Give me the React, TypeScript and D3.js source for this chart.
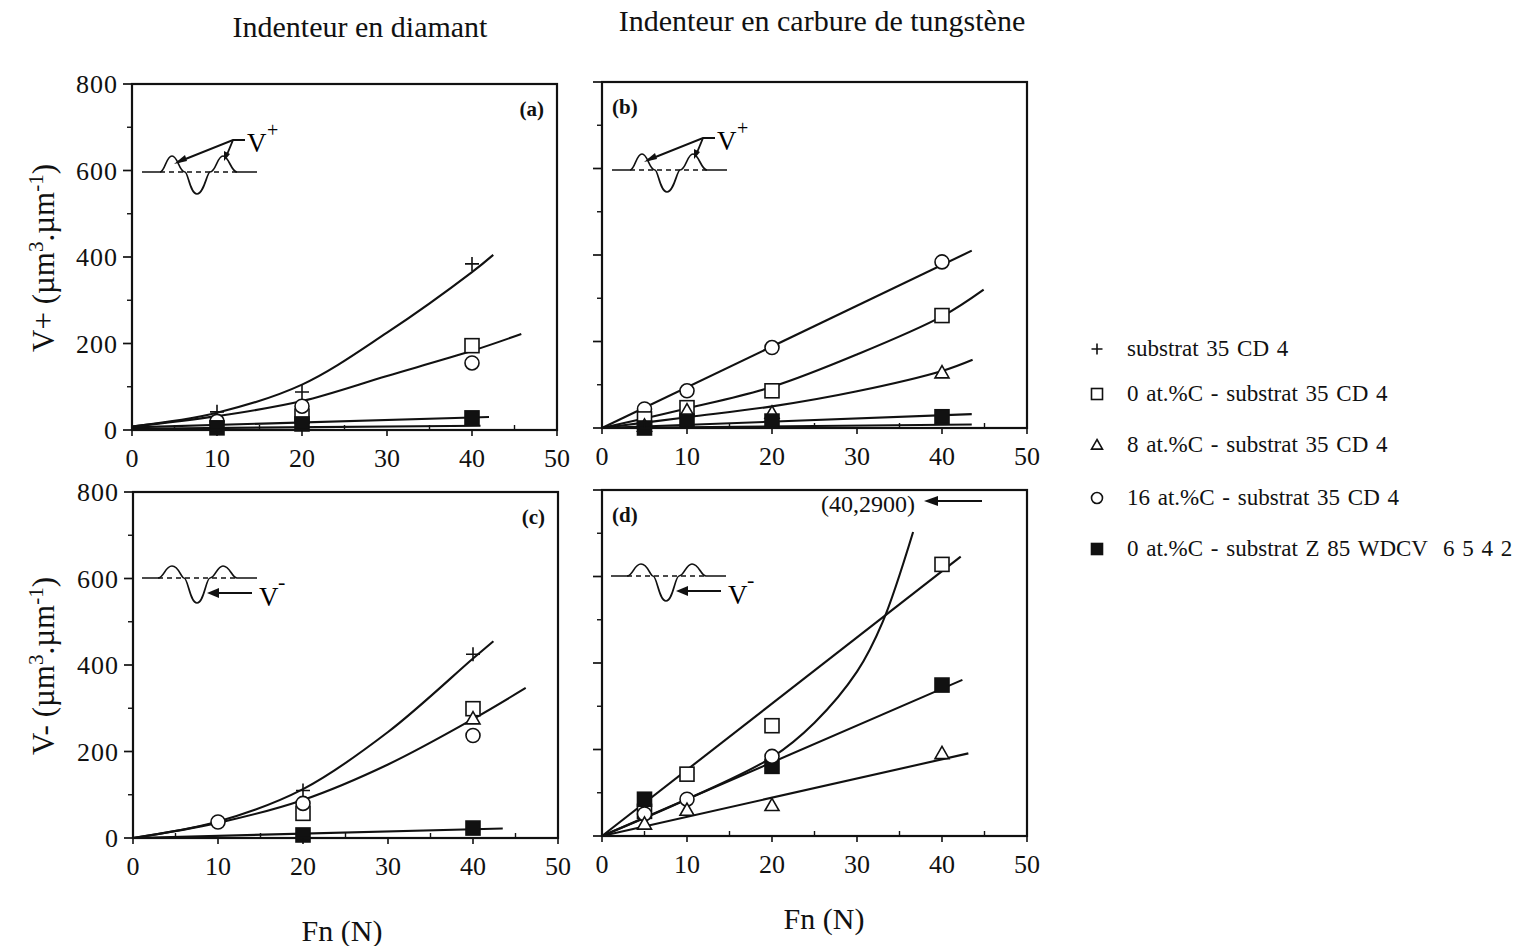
import React from "react";
import * as d3 from "d3";

type Pt = [number, number];

// ---------- data ----------
const xTicks = [0, 10, 20, 30, 40, 50];
const yTicks = [0, 200, 400, 600, 800];

// panel (a) diamond, V+
const plusA: Pt[] = [[10, 42], [20, 88], [40, 384]];
const squareA: Pt[] = [[20, 32], [40, 195]];
const circleA: Pt[] = [[10, 20], [20, 55], [40, 155]];
const filledA: Pt[] = [[10, 5], [20, 14], [40, 28]];
const fitPlusA: Pt[] = [[0, 8], [10, 40], [20, 105], [30, 225], [40, 365], [42.5, 405]];
const fitSquareA: Pt[] = [[0, 8], [10, 32], [20, 67], [30, 125], [40, 183], [45.8, 222]];
const fitFlatA1: Pt[] = [[0, 6], [42, 30]];
const fitFlatA2: Pt[] = [[0, 3], [41, 10]];

// panel (b) WC, V+
const circleB: Pt[] = [[5, 44], [10, 86], [20, 186], [40, 384]];
const squareB: Pt[] = [[5, 21], [10, 47], [20, 86], [40, 260]];
const triangleB: Pt[] = [[5, 5], [10, 40], [20, 35], [40, 128]];
const filledB: Pt[] = [[5, 0], [10, 16], [20, 16], [40, 26]];
const fitCircleB: Pt[] = [[0, 0], [43.5, 410]];
const fitSquareB: Pt[] = [[0, 0], [10, 45], [20, 95], [30, 170], [40, 258], [44.9, 320]];
const fitTriangleB: Pt[] = [[0, 0], [10, 25], [20, 50], [30, 85], [40, 132], [43.6, 158]];
const fitFlatB1: Pt[] = [[0, 0], [43.5, 32]];
const fitFlatB2: Pt[] = [[0, 0], [43.5, 8]];

// panel (c) diamond, V-
const plusC: Pt[] = [[20, 110], [40, 425]];
const squareC: Pt[] = [[20, 57], [40, 299]];
const triangleC: Pt[] = [[40, 276]];
const circleC: Pt[] = [[10, 37], [20, 80], [40, 237]];
const filledC: Pt[] = [[20, 7], [40, 23]];
const fitPlusC: Pt[] = [[0, 0], [10, 38], [20, 113], [30, 245], [40, 415], [42.4, 455]];
const fitSquareC: Pt[] = [[0, 0], [10, 35], [20, 88], [30, 170], [40, 275], [46.2, 347]];
const fitFlatC: Pt[] = [[0, 0], [43.5, 22]];

// panel (d) WC, V-
const squareD: Pt[] = [[5, 57], [10, 143], [20, 255], [40, 628]];
const filledD: Pt[] = [[5, 85], [20, 161], [40, 349]];
const circleD: Pt[] = [[5, 51], [10, 85], [20, 184]];
const triangleD: Pt[] = [[5, 28], [10, 60], [20, 71], [40, 191]];
const fitSquareD: Pt[] = [[0, 0], [42.2, 646]];
const fitFilledD: Pt[] = [[0, 0], [42.4, 361]];
const fitTriangleD: Pt[] = [[0, 0], [43.1, 191]];
const fitCircleD: Pt[] = [[0, 0], [10, 85], [20, 182], [25, 262], [30, 380], [33, 494], [36.6, 703]];

const legendLabels = [
  "substrat 35 CD 4",
  "0 at.%C - substrat 35 CD 4",
  "8 at.%C - substrat 35 CD 4",
  "16 at.%C - substrat 35 CD 4",
  "0 at.%C - substrat Z 85 WDCV  6 5 4 2",
];
const legendMarkers = ["plus", "square", "triangle", "circle", "filled"];
const legendRows = [348, 393, 444, 497, 548];

// ---------- layout ----------
const W = 425;
const H = 346;
const FONT = "'Liberation Serif', 'DejaVu Serif', serif";

type Series = { type: string; pts: Pt[] };
type Panel = {
  id: string;
  x: number;
  y: number;
  labelPos: "left" | "right";
  yLabels: boolean;
  series: Series[];
  fits: Pt[][];
  inset: "plus" | "minus";
};

const panels: Panel[] = [
  {
    id: "(a)", x: 132, y: 84, labelPos: "right", yLabels: true, inset: "plus",
    series: [
      { type: "plus", pts: plusA }, { type: "square", pts: squareA },
      { type: "circle", pts: circleA }, { type: "filled", pts: filledA },
    ],
    fits: [fitPlusA, fitSquareA, fitFlatA1, fitFlatA2],
  },
  {
    id: "(b)", x: 602, y: 82, labelPos: "left", yLabels: false, inset: "plus",
    series: [
      { type: "circle", pts: circleB }, { type: "square", pts: squareB },
      { type: "triangle", pts: triangleB }, { type: "filled", pts: filledB },
    ],
    fits: [fitCircleB, fitSquareB, fitTriangleB, fitFlatB1, fitFlatB2],
  },
  {
    id: "(c)", x: 133, y: 492, labelPos: "right", yLabels: true, inset: "minus",
    series: [
      { type: "plus", pts: plusC }, { type: "square", pts: squareC },
      { type: "triangle", pts: triangleC }, { type: "circle", pts: circleC },
      { type: "filled", pts: filledC },
    ],
    fits: [fitPlusC, fitSquareC, fitFlatC],
  },
  {
    id: "(d)", x: 602, y: 490, labelPos: "left", yLabels: false, inset: "minus",
    series: [
      { type: "square", pts: squareD }, { type: "filled", pts: filledD },
      { type: "circle", pts: circleD }, { type: "triangle", pts: triangleD },
    ],
    fits: [fitSquareD, fitFilledD, fitTriangleD, fitCircleD],
  },
];

function Marker({ type, x, y, s }: { type: string; x: number; y: number; s: number }) {
  const h = s / 2;
  const sw = 1.6;
  if (type === "plus")
    return (
      <path d={`M${x - h},${y}H${x + h}M${x},${y - h}V${y + h}`} stroke="#111" strokeWidth={sw} fill="none" />
    );
  if (type === "square")
    return <rect x={x - h} y={y - h} width={s} height={s} fill="#fff" stroke="#111" strokeWidth={sw} />;
  if (type === "filled")
    return <rect x={x - h} y={y - h} width={s} height={s} fill="#111" stroke="#111" strokeWidth={sw} />;
  if (type === "circle")
    return <circle cx={x} cy={y} r={h} fill="#fff" stroke="#111" strokeWidth={sw} />;
  return (
    <path d={`M${x},${y - h}L${x + h},${y + h * 0.75}L${x - h},${y + h * 0.75}Z`} fill="#fff" stroke="#111" strokeWidth={sw} />
  );
}

function InsetPlus() {
  const prof = "M10,88 L28,88 C33,88 34,72 40,72 C46,72 47,88 53,88 C56,88 58,110 65,110 C72,110 75,88 78,88 C84,88 85,72 91,72 C97,72 99,88 105,88 L125,88";
  return (
    <g>
      <path d={prof} fill="#fff" stroke="#111" strokeWidth={1.7} />
      <line x1={28} x2={105} y1={88} y2={88} stroke="#111" strokeWidth={1.6} strokeDasharray="5,4" />
      <path d="M46,78 L101,56 L113,56" fill="none" stroke="#111" strokeWidth={1.9} />
      <path d="M42,80 L53,71 L55,77 Z" fill="#111" />
      <path d="M101,56 L94,73" stroke="#111" strokeWidth={1.9} />
      <path d="M92,77 L92,67 L98,70 Z" fill="#111" />
      <text x={115} y={68} fontFamily={FONT} fontSize={27}>V</text>
      <text x={135} y={53} fontFamily={FONT} fontSize={20}>+</text>
    </g>
  );
}

function InsetMinus() {
  const prof = "M9,86 L25,86 C31,86 32,74 39,74 C46,74 48,86 51,86 C55,86 57,111 64,111 C71,111 73,86 77,86 C82,86 84,74 90,74 C97,74 99,86 104,86 L124,86";
  return (
    <g>
      <path d={prof} fill="none" stroke="#111" strokeWidth={1.7} />
      <line x1={25} x2={104} y1={86} y2={86} stroke="#111" strokeWidth={1.6} strokeDasharray="5,4" />
      <line x1={84} x2={119} y1={101} y2={101} stroke="#111" strokeWidth={1.9} />
      <path d="M74,101 L86,96 L86,106 Z" fill="#111" />
      <text x={126} y={114} fontFamily={FONT} fontSize={27}>V</text>
      <text x={145} y={97} fontFamily={FONT} fontSize={22}>-</text>
    </g>
  );
}

function PanelView({ p }: { p: Panel }) {
  const x = d3.scaleLinear().domain([0, 50]).range([0, W]);
  const y = d3.scaleLinear().domain([0, 800]).range([H, 0]);
  const smooth = d3.line<Pt>().x((d) => x(d[0])).y((d) => y(d[1])).curve(d3.curveCatmullRom.alpha(0.5));
  const minorX = d3.range(5, 50, 10);
  const minorY = d3.range(100, 800, 200);
  return (
    <g transform={`translate(${p.x},${p.y})`}>
      {p.fits.map((f, i) => (
        <path key={i} d={smooth(f) || ""} fill="none" stroke="#111" strokeWidth={2.1} />
      ))}
      {p.series.map((s, i) =>
        s.pts.map((d, j) => <Marker key={`${i}-${j}`} type={s.type} x={x(d[0])} y={y(d[1])} s={14} />)
      )}
      <rect x={0} y={0} width={W} height={H} fill="none" stroke="#111" strokeWidth={2.2} />
      {yTicks.map((t) => (
        <line key={`y${t}`} x1={-9} x2={0} y1={y(t)} y2={y(t)} stroke="#111" strokeWidth={1.7} />
      ))}
      {minorY.map((t) => (
        <line key={`ym${t}`} x1={-5} x2={0} y1={y(t)} y2={y(t)} stroke="#111" strokeWidth={1.4} />
      ))}
      {xTicks.map((t) => (
        <line key={`x${t}`} x1={x(t)} x2={x(t)} y1={H} y2={H + 6} stroke="#111" strokeWidth={1.6} />
      ))}
      {minorX.map((t) => (
        <line key={`xm${t}`} x1={x(t)} x2={x(t)} y1={H} y2={H - 5} stroke="#111" strokeWidth={1.4} />
      ))}
      {p.yLabels &&
        yTicks.map((t) => (
          <text key={`yl${t}`} x={-14} y={y(t) + 9} textAnchor="end" fontFamily={FONT} fontSize={26} letterSpacing={1} fill="#111">
            {t}
          </text>
        ))}
      {xTicks.map((t) => (
        <text key={`xl${t}`} x={x(t)} y={H + 37} textAnchor="middle" fontFamily={FONT} fontSize={26} fill="#111">
          {t}
        </text>
      ))}
      <text
        x={p.labelPos === "right" ? W - 13 : 10}
        y={32}
        textAnchor={p.labelPos === "right" ? "end" : "start"}
        fontFamily={FONT}
        fontSize={21}
        fontWeight="bold"
        fill="#111"
      >
        {p.id}
      </text>
      {p.inset === "plus" ? <InsetPlus /> : <InsetMinus />}
    </g>
  );
}

export default function App() {
  const titleSize = 30;
  return (
    <svg width={1513} height={946} style={{ display: "block", position: "absolute", left: 0, top: 0, background: "#fff" }}>
      <rect width={1513} height={946} fill="#fff" />
      <text x={360} y={37} textAnchor="middle" fontFamily={FONT} fontSize={titleSize} fill="#111">Indenteur en diamant</text>
      <text x={822} y={31} textAnchor="middle" fontFamily={FONT} fontSize={titleSize} fill="#111">Indenteur en carbure de tungstène</text>

      {panels.map((p) => (
        <PanelView key={p.id} p={p} />
      ))}

      {/* (40,2900) annotation in panel d */}
      <text x={868} y={512} textAnchor="middle" fontFamily={FONT} fontSize={24} fill="#111">(40,2900)</text>
      <line x1={934} x2={982} y1={501} y2={501} stroke="#111" strokeWidth={2} />
      <path d="M924,501 L938,496 L938,506 Z" fill="#111" />

      {/* y axis titles */}
      <text transform="translate(54,258) rotate(-90)" textAnchor="middle" fontFamily={FONT} fontSize={31} fill="#111">
        V+ (µm<tspan dy={-11} fontSize={21}>3</tspan><tspan dy={11}>.µm</tspan><tspan dy={-11} fontSize={21}>-1</tspan><tspan dy={11}>)</tspan>
      </text>
      <text transform="translate(54,666) rotate(-90)" textAnchor="middle" fontFamily={FONT} fontSize={31} fill="#111">
        V- (µm<tspan dy={-11} fontSize={21}>3</tspan><tspan dy={11}>.µm</tspan><tspan dy={-11} fontSize={21}>-1</tspan><tspan dy={11}>)</tspan>
      </text>

      {/* x axis titles */}
      <text x={342} y={941} textAnchor="middle" fontFamily={FONT} fontSize={titleSize} fill="#111">Fn (N)</text>
      <text x={824} y={929} textAnchor="middle" fontFamily={FONT} fontSize={titleSize} fill="#111">Fn (N)</text>

      {/* legend */}
      {legendLabels.map((l, i) => (
        <g key={l}>
          <Marker type={legendMarkers[i]} x={1097} y={legendRows[i] + 1} s={11} />
          <text x={1127} y={legendRows[i] + 8} fontFamily={FONT} fontSize={23} wordSpacing={2} xmlSpace="preserve" fill="#111">{l}</text>
        </g>
      ))}
    </svg>
  );
}
